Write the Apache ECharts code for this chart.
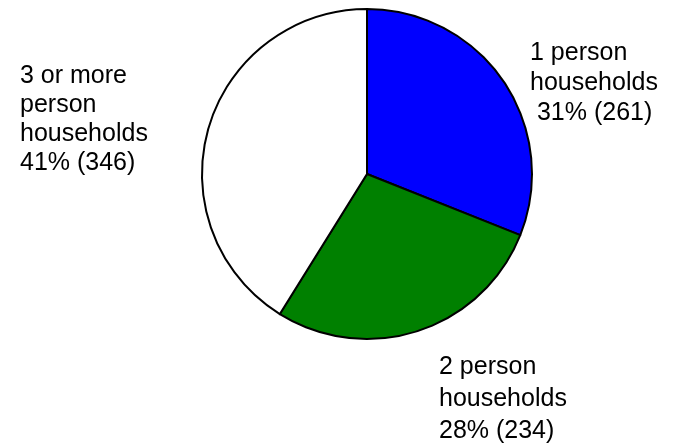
<!DOCTYPE html>
<html>
<head>
<meta charset="utf-8">
<script src="https://cdn.jsdelivr.net/npm/echarts@6/dist/echarts.min.js"></script>
<style>
html,body{margin:0;padding:0;background:#fff;}
#chart{width:675px;height:445px;}
</style>
</head>
<body>
<div id="chart"></div>
<script>
const categories = ['1 person\nhouseholds', '2 person\nhouseholds', '3 or more\nperson\nhouseholds'];
const values = [261, 234, 346];
const colors = ['#0000ff', '#008000', '#ffffff'];

const labelAnchors = [
  { x: 530, y: 38, lineHeight: 30 },
  { x: 439, y: 351, lineHeight: 32 },
  { x: 20, y: 62, lineHeight: 29 }
];

const chart = echarts.init(document.getElementById('chart'), null, { renderer: 'canvas' });
chart.setOption({
  backgroundColor: '#ffffff',
  animation: false,
  series: [{
    type: 'pie',
    center: [367, 174],
    radius: [0, 165],
    startAngle: 90,
    clockwise: true,
    percentPrecision: 0,
    avoidLabelOverlap: false,
    itemStyle: { borderColor: '#000000', borderWidth: 2 },
    emphasis: { disabled: true },
    label: {
      show: true,
      position: 'outside',
      formatter: function (p) {
        return p.name + '\n' + (p.dataIndex === 0 ? ' ' : '') + Math.round(p.percent) + '% (' + p.value + ')';
      },
      color: '#000000',
      fontFamily: 'Liberation Sans, Arial, sans-serif',
      fontSize: 25,
      lineHeight: 30,
      align: 'left'
    },
    labelLine: { show: false },
    labelLayout: function (params) {
      const a = labelAnchors[params.dataIndex];
      return { x: a.x, y: a.y, align: 'left', verticalAlign: 'top', hideOverlap: false };
    },
    data: categories.map((c, i) => ({
      name: c,
      value: values[i],
      itemStyle: { color: colors[i] },
      label: { lineHeight: labelAnchors[i].lineHeight }
    }))
  }]
});
</script>
</body>
</html>
